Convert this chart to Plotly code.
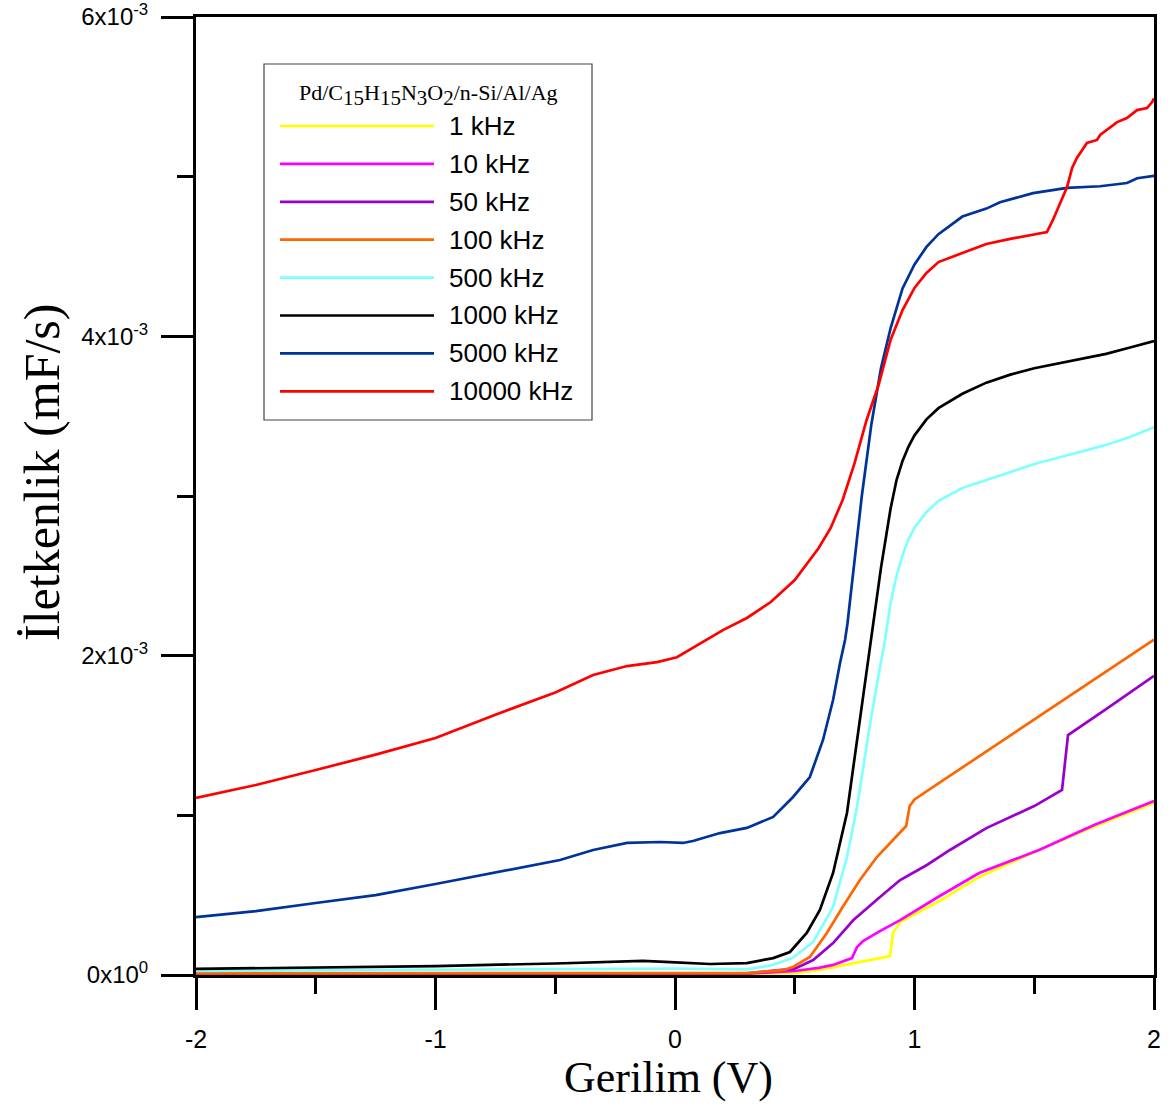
import plotly.graph_objects as go

SCALE = 1e-3  # values below are in units of 1e-3 mF/s

names = ["1 kHz", "10 kHz", "50 kHz", "100 kHz", "500 kHz", "1000 kHz", "5000 kHz", "10000 kHz"]
colors = ["#ffff00", "#ff00ff", "#9900cc", "#ff6600", "#80ffff", "#000000", "#003399", "#ff0000"]

v_1k = [-2, -1, 0, 0.3, 0.5, 0.6, 0.7, 0.8, 0.898, 0.91, 0.94, 1.0, 1.1, 1.27, 1.52, 1.75, 2.0]
g_1k = [0.002, 0.003, 0.004, 0.005, 0.012, 0.03, 0.06, 0.09, 0.119, 0.263, 0.332, 0.38, 0.46, 0.614, 0.783, 0.93, 1.077]

v_10k = [-2, -1, 0, 0.3, 0.5, 0.6, 0.66, 0.739, 0.76, 0.785, 0.85, 0.94, 1.1, 1.27, 1.52, 1.75, 2.0]
g_10k = [0.003, 0.004, 0.005, 0.008, 0.025, 0.045, 0.063, 0.106, 0.175, 0.213, 0.27, 0.344, 0.49, 0.639, 0.783, 0.94, 1.09]

v_50k = [-2, -1, 0, 0.3, 0.5, 0.577, 0.66, 0.745, 0.856, 0.94, 1.052, 1.148, 1.3, 1.5, 1.616, 1.641, 1.8, 2.0]
g_50k = [0.005, 0.006, 0.008, 0.01, 0.04, 0.094, 0.2, 0.344, 0.489, 0.595, 0.689, 0.783, 0.92, 1.058, 1.159, 1.503, 1.665, 1.873]

v_100k = [-2, -1, -0.5, 0, 0.3, 0.45, 0.493, 0.563, 0.634, 0.70, 0.772, 0.843, 0.94, 0.965, 0.98, 1.0, 1.1, 1.2, 1.3,
          1.4, 1.5, 1.6, 1.7, 1.8, 1.9, 2.0]
g_100k = [0.01, 0.012, 0.014, 0.015, 0.012, 0.03, 0.05, 0.113, 0.263, 0.426, 0.595, 0.739, 0.896, 0.933, 1.058, 1.1,
          1.2, 1.3, 1.4, 1.5, 1.6, 1.7, 1.8, 1.9, 2.0, 2.1]

v_500k = [-2, -1.5, -1, -0.5, 0, 0.3, 0.4, 0.49, 0.577, 0.66, 0.718, 0.76, 0.815, 0.856, 0.877, 0.9, 0.925, 0.95,
          0.975, 1.0, 1.05, 1.1, 1.2, 1.3, 1.4, 1.5, 1.6, 1.7, 1.8, 1.9, 2.0]
g_500k = [0.025, 0.028, 0.032, 0.037, 0.04, 0.035, 0.06, 0.106, 0.207, 0.426, 0.739, 1.052, 1.578, 1.929, 2.098, 2.33,
          2.5, 2.63, 2.73, 2.8, 2.9, 2.97, 3.05, 3.1, 3.15, 3.2, 3.24, 3.28, 3.32, 3.37, 3.43]

v_1000k = [-2, -1.5, -1, -0.5, -0.134, -0.02, 0.146, 0.3, 0.41, 0.48, 0.55, 0.605, 0.66, 0.718, 0.745, 0.772, 0.8,
           0.82, 0.86, 0.9, 0.925, 0.95, 0.975, 1.0, 1.05, 1.1, 1.2, 1.3, 1.4, 1.5, 1.6, 1.7, 1.8, 1.9, 2.0]
g_1000k = [0.038, 0.045, 0.056, 0.072, 0.088, 0.081, 0.069, 0.075, 0.106, 0.144, 0.263, 0.407, 0.639, 1.015, 1.303,
           1.616, 1.91, 2.098, 2.55, 2.92, 3.1, 3.22, 3.31, 3.38, 3.48, 3.55, 3.64, 3.71, 3.76, 3.80, 3.83, 3.86,
           3.89, 3.93, 3.97]

v_5000k = [-2, -1.75, -1.5, -1.25, -1, -0.75, -0.48, -0.342, -0.2, -0.063, 0.033, 0.075, 0.188, 0.3, 0.41, 0.493,
           0.563, 0.618, 0.66, 0.689, 0.71, 0.72, 0.75, 0.78, 0.82, 0.86, 0.9, 0.95, 1.0, 1.05, 1.1, 1.2, 1.3, 1.357,
           1.495, 1.637, 1.775, 1.887, 1.93, 2.0]
g_5000k = [0.363, 0.40, 0.451, 0.50, 0.57, 0.64, 0.72, 0.783, 0.827, 0.833, 0.827, 0.839, 0.889, 0.921, 0.99, 1.115,
           1.24, 1.472, 1.722, 1.954, 2.098, 2.2, 2.6, 3.0, 3.45, 3.8, 4.05, 4.3, 4.45, 4.56, 4.64, 4.75, 4.8, 4.84,
           4.897, 4.93, 4.94, 4.96, 4.99, 5.005]

v_10000k = [-2, -1.75, -1.5, -1.25, -1, -0.75, -0.5, -0.342, -0.2, -0.075, 0.008, 0.075, 0.13, 0.2, 0.3, 0.4, 0.5,
            0.6, 0.65, 0.7, 0.75, 0.8, 0.85, 0.9, 0.95, 1.0, 1.05, 1.1, 1.2, 1.3, 1.4, 1.5, 1.553, 1.578, 1.608,
            1.637, 1.658, 1.678, 1.72, 1.762, 1.775, 1.846, 1.887, 1.929, 1.971, 1.992, 2.0]
g_10000k = [1.109, 1.19, 1.284, 1.38, 1.484, 1.63, 1.77, 1.879, 1.935, 1.96, 1.99, 2.048, 2.098, 2.16, 2.236, 2.336,
            2.474, 2.674, 2.80, 2.975, 3.207, 3.476, 3.695, 3.977, 4.165, 4.303, 4.397, 4.465, 4.522, 4.578, 4.61,
            4.641, 4.653, 4.729, 4.835, 4.935, 5.054, 5.117, 5.211, 5.230, 5.261, 5.342, 5.367, 5.417, 5.430, 5.467,
            5.49]

xs = [v_1k, v_10k, v_50k, v_100k, v_500k, v_1000k, v_5000k, v_10000k]
ys = [g_1k, g_10k, g_50k, g_100k, g_500k, g_1000k, g_5000k, g_10000k]

x_ticks = [-2, -1, 0, 1, 2]
x_ticktext = ["-2", "-1", "0", "1", "2"]
y_ticks = [0, 2, 4, 6]
y_ticktext = ["0x10<sup>0</sup>", "2x10<sup>-3</sup>", "4x10<sup>-3</sup>", "6x10<sup>-3</sup>"]
x_title = "Gerilim (V)"
y_title = "İletkenlik (mF/s)"


def sub(s):
    return '<sub><span style="font-size:21px">' + s + '</span></sub>'


legend_title = "Pd/C" + sub("15") + "H" + sub("15") + "N" + sub("3") + "O" + sub("2") + "/n-Si/Al/Ag"

fig = go.Figure()
for x, y, n, c in zip(xs, ys, names, colors):
    fig.add_trace(go.Scatter(x=x, y=[v * SCALE for v in y], mode="lines", name=n,
                             line=dict(color=c, width=2.7), showlegend=False))

# Plot area in pixels
L, R, T, B = 196, 1154, 17, 975
W, H = R - L, B - T
px = lambda p: (p - L) / W
py = lambda p: (B - p) / H

shapes = [dict(type="rect", xref="paper", yref="paper", x0=px(264), x1=px(592), y0=py(64), y1=py(420),
               line=dict(color="#444444", width=1.2), fillcolor="white", layer="above")]
annotations = [dict(xref="paper", yref="paper", x=px(428), y=py(95), text=legend_title, showarrow=False,
                    font=dict(family="Liberation Serif", size=22, color="black"), xanchor="center",
                    yanchor="middle"),
               dict(xref="paper", yref="paper", x=px(668), y=py(1077), text=x_title, showarrow=False,
                    font=dict(family="Liberation Serif", size=44, color="black"), xanchor="center",
                    yanchor="middle"),
               dict(xref="paper", yref="paper", x=px(42), y=py(473), text=y_title, showarrow=False, textangle=-90,
                    font=dict(family="Liberation Serif", size=50, color="black"), xanchor="center",
                    yanchor="middle")]
for i, (n, c) in enumerate(zip(names, colors)):
    yy = 126 + i * 37.9
    shapes.append(dict(type="line", xref="paper", yref="paper", x0=px(280), x1=px(434), y0=py(yy), y1=py(yy),
                       line=dict(color=c, width=2.7), layer="above"))
    annotations.append(dict(xref="paper", yref="paper", x=px(447), y=py(yy), text=n, showarrow=False,
                            font=dict(family="Liberation Sans", size=26, color="black"),
                            xanchor="left", yanchor="middle"))

fig.update_layout(
    width=1171, height=1108,
    margin=dict(l=L, r=1171 - R, t=T, b=1108 - B),
    paper_bgcolor="white", plot_bgcolor="white",
    shapes=shapes, annotations=annotations,
    xaxis=dict(range=[-2, 2], tickvals=x_ticks, ticktext=x_ticktext, ticks="outside", ticklen=32, tickwidth=3,
               tickcolor="black", automargin=False, ticklabelstandoff=8,
               showline=True, linewidth=3, linecolor="black", mirror=True, showgrid=False, zeroline=False,
               minor=dict(ticks="outside", ticklen=16, tickwidth=3, tickcolor="black", dtick=0.5, showgrid=False),
               tickfont=dict(family="Liberation Sans", size=25, color="black")),
    yaxis=dict(range=[0, 6 * SCALE], tickvals=[v * SCALE for v in y_ticks], ticktext=y_ticktext,
               ticks="outside", ticklen=32, tickwidth=3, tickcolor="black", automargin=False, ticklabelstandoff=8,
               showline=True, linewidth=3, linecolor="black", mirror=True, showgrid=False, zeroline=False,
               minor=dict(ticks="outside", ticklen=16, tickwidth=3, tickcolor="black", dtick=SCALE, showgrid=False),
               tickfont=dict(family="Liberation Sans", size=24, color="black")),
)

fig.write_html("out.html")
